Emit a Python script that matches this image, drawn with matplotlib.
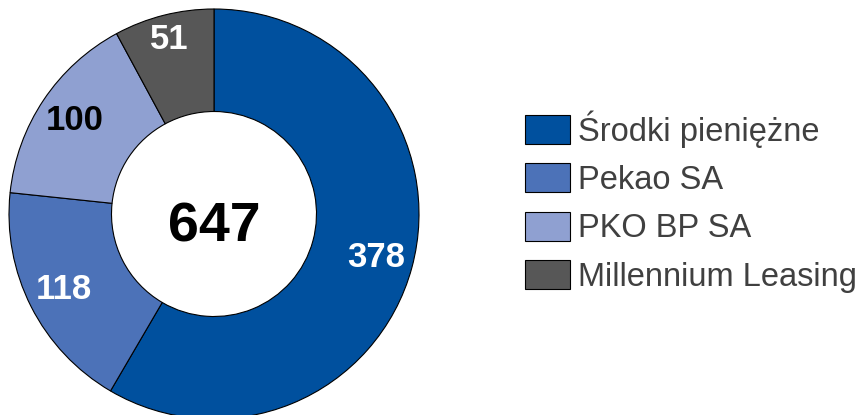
import numpy as np
import matplotlib
matplotlib.use("Agg")
import matplotlib.pyplot as plt

categories = ["Środki pieniężne", "Pekao SA", "PKO BP SA", "Millennium Leasing"]
values = [378, 118, 100, 51]
colors = ["#00509E", "#4C72B8", "#8FA0D1", "#575757"]
label_colors = ["white", "white", "black", "white"]
total_label = "647"

plt.rcParams['font.family'] = ['Liberation Sans', 'DejaVu Sans']

W, H = 858, 415
fig = plt.figure(figsize=(W / 100, H / 100), dpi=100)
cx, cy, R = 214, 214, 205
ax = fig.add_axes([(cx - R) / W, (H - cy - R) / H, 2 * R / W, 2 * R / H])

wedges, _ = ax.pie(values, colors=colors, startangle=90, counterclock=False,
                   radius=1.0,
                   wedgeprops=dict(width=0.5, edgecolor='black', linewidth=0.8))
ax.set_xlim(-1, 1)
ax.set_ylim(-1, 1)
ax.set_aspect('equal')
ax.axis('off')

label_r = [0.82, 0.82, 0.82, 0.88]
for w, v, c, r in zip(wedges, values, label_colors, label_r):
    ang = np.deg2rad((w.theta1 + w.theta2) / 2)
    ax.text(r * np.cos(ang), r * np.sin(ang), str(v), ha='center', va='center',
            fontsize=25, fontweight='bold', color=c)

ax.text(0, -0.065, total_label, ha='center', va='center', fontsize=40,
        fontweight='bold', color='black')

leg = fig.legend(wedges, categories, loc='upper left',
                 bbox_to_anchor=(525 / W, 1 - 110 / H), frameon=False,
                 fontsize=23.5, handlelength=1.38, handleheight=1.0,
                 handletextpad=0.25, labelspacing=0.48, borderpad=0,
                 borderaxespad=0)
for t in leg.get_texts():
    t.set_color('#404040')

fig.savefig("out.png", dpi=100)
